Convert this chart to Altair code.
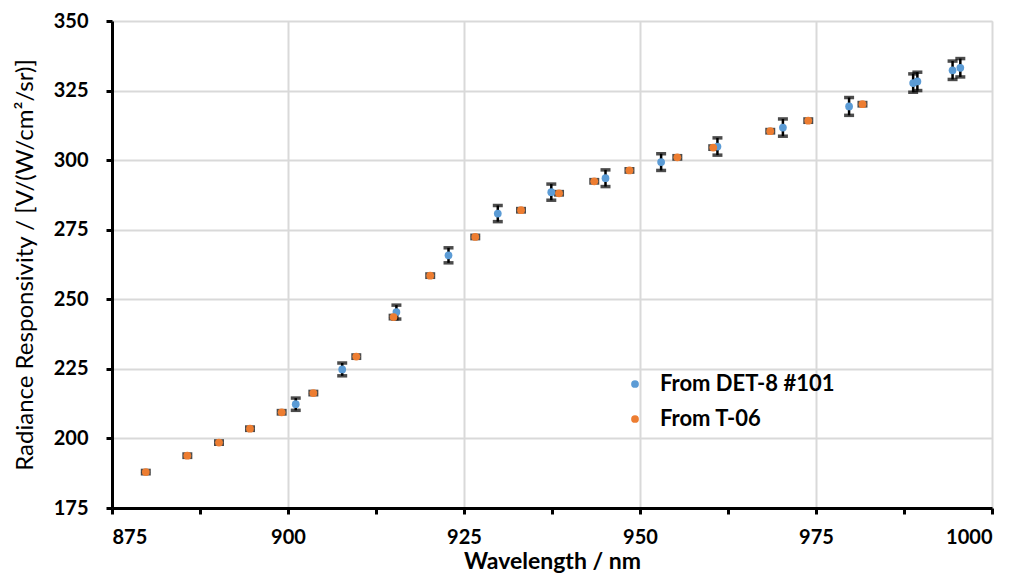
import altair as alt
import pandas as pd

# Series "From DET-8 #101"
det_wl = [901.1, 907.7, 915.4, 922.8, 929.8, 937.4, 945.1, 953.0, 961.0, 970.3, 979.7, 988.8, 989.4, 994.4, 995.5]
det_val = [212.3, 224.8, 245.4, 265.8, 280.8, 288.5, 293.5, 299.3, 304.9, 311.7, 319.3, 327.7, 328.3, 332.3, 333.2]
det_err = [2.2, 2.3, 2.5, 2.7, 2.9, 2.9, 3.0, 3.0, 3.1, 3.1, 3.2, 3.3, 3.3, 3.3, 3.3]

# Series "From T-06"
t06_wl = [879.8, 885.7, 890.2, 894.6, 899.1, 903.6, 909.7, 915.0, 920.2, 926.6, 933.1, 938.5, 943.5, 948.5, 955.3, 960.4, 968.5, 973.9, 981.6]
t06_val = [187.9, 193.8, 198.5, 203.5, 209.4, 216.3, 229.4, 243.6, 258.5, 272.4, 282.0, 288.1, 292.4, 296.3, 301.0, 304.5, 310.4, 314.2, 320.1]
t06_err = [0.6] * len(t06_wl)

series_names = ["From DET-8 #101", "From T-06"]
series_colors = ["#5B9BD5", "#ED7D31"]

x_ticks = [875 + 12.5 * i for i in range(11)]
y_ticks = [175 + 12.5 * i for i in range(15)]

rows = []
for w, v, e in zip(det_wl, det_val, det_err):
    rows.append({"wl": w, "val": v, "lo": v - e, "hi": v + e, "series": series_names[0]})
for w, v, e in zip(t06_wl, t06_val, t06_err):
    rows.append({"wl": w, "val": v, "lo": v - e, "hi": v + e, "series": series_names[1]})
df = pd.DataFrame(rows)

FONT = "Lato"

x_scale = alt.Scale(domain=[875, 1000], nice=False, zero=False)
y_scale = alt.Scale(domain=[175, 350], nice=False, zero=False)

grid_cond = {"condition": {"test": "datum.value % 25 == 0", "value": 1}, "value": 0}

x_axis = alt.Axis(
    title="Wavelength / nm", values=x_ticks, format="d",
    labelExpr="datum.value % 25 == 0 ? datum.label : ''",
    gridOpacity=grid_cond, gridColor="#d9d9d9", gridWidth=2,
    domainColor="black", domainWidth=3, tickColor="black", tickWidth=3, tickSize=6,
    labelFont=FONT, labelFontSize=20, labelFontWeight="bold", labelColor="black", labelPadding=13,
    titleFont=FONT, titleFontSize=23, titleFontWeight="bold", titleColor="black", titlePadding=3,
)
y_axis = alt.Axis(
    title="Radiance Responsivity / [V/(W/cm²/sr)]", values=y_ticks, format="d",
    labelExpr="datum.value % 25 == 0 ? datum.label : ''",
    gridOpacity=grid_cond, gridColor="#d9d9d9", gridWidth=2,
    domainColor="black", domainWidth=3, tickColor="black", tickWidth=3, tickSize=6,
    labelFont=FONT, labelFontSize=20, labelFontWeight="bold", labelColor="black", labelPadding=18,
    titleFont=FONT, titleFontSize=24, titleFontWeight="normal", titleColor="black", titlePadding=16,
)

base = alt.Chart(df)

err_rule = base.mark_rule(color="black", strokeWidth=2.5).encode(
    x=alt.X("wl:Q", scale=x_scale, axis=x_axis),
    y=alt.Y("lo:Q", scale=y_scale, axis=y_axis),
    y2="hi:Q",
)
cap_lo = base.mark_tick(color="black", orient="horizontal", size=10, thickness=3.5).encode(
    x="wl:Q", y="lo:Q"
)
cap_hi = base.mark_tick(color="black", orient="horizontal", size=10, thickness=3.5).encode(
    x="wl:Q", y="hi:Q"
)
points = base.mark_circle(size=60, opacity=1).encode(
    x="wl:Q", y="val:Q",
    color=alt.Color(
        "series:N",
        scale=alt.Scale(domain=series_names, range=series_colors),
        legend=alt.Legend(
            title=None, orient="none", legendX=512, legendY=352,
            labelFont=FONT, labelFontSize=22, labelFontWeight="bold", labelColor="black",
            labelLimit=0,
            symbolType="circle", symbolSize=60, rowPadding=13, labelOffset=14,
        ),
    ),
)

chart = alt.layer(err_rule, cap_lo, cap_hi, points).properties(
    width=880, height=487,
    padding={"left": 5, "top": 3, "right": 5, "bottom": 0},
).configure_view(stroke=None).configure(background="white")

chart.save("out.html", embed_options={"renderer": "svg", "actions": False})
